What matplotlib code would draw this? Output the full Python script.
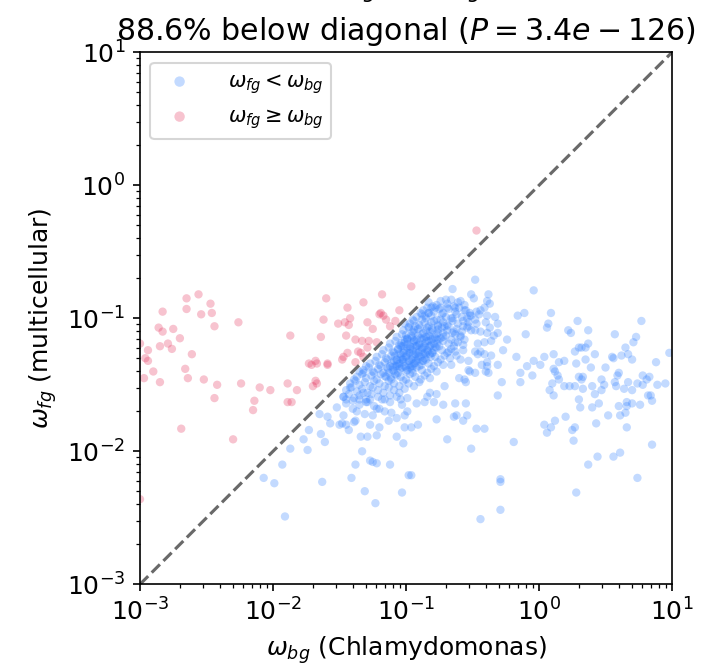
import numpy as np
import matplotlib
matplotlib.use("Agg")
import matplotlib.pyplot as plt

# log10(omega_bg), log10(omega_fg) for genes with omega_fg >= omega_bg
above_diag = [
    (-2.56, -0.82), (-2.65, -0.85), (-2.47, -0.89), (-2.65, -0.93), (-2.83, -0.95),
    (-2.46, -0.96), (-2.54, -0.97), (-2.26, -1.03), (-2.44, -1.06), (-1.60, -0.85),
    (-1.62, -1.01), (-1.87, -1.13), (-1.64, -1.14), (-2.86, -1.07), (-2.83, -1.10),
    (-2.75, -1.08), (-2.70, -1.15), (-3.00, -1.19), (-2.79, -1.19), (-2.85, -1.21),
    (-2.76, -1.23), (-2.94, -1.24), (-2.61, -1.27), (-2.96, -1.30), (-2.94, -1.32),
    (-2.90, -1.40), (-2.66, -1.38), (-2.97, -1.45), (-2.64, -1.45), (-2.85, -1.48),
    (-2.52, -1.46), (-2.42, -1.50), (-2.24, -1.49), (-2.10, -1.52), (-2.02, -1.54),
    (-1.89, -1.49), (-1.82, -1.54), (-2.44, -1.60), (-2.14, -1.62), (-2.15, -1.69),
    (-1.89, -1.63), (-1.86, -1.63), (-2.69, -1.83), (-1.73, -1.34), (-1.71, -1.35),
    (-1.68, -1.32), (-1.67, -1.34), (-1.59, -1.34), (-1.59, -1.35), (-1.68, -1.47),
    (-1.67, -1.49), (-1.70, -1.51), (-0.96, -0.76), (-1.18, -0.82), (-1.32, -0.88),
    (-1.44, -0.92), (-1.05, -0.94), (-1.19, -0.96), (-1.17, -0.98), (-1.15, -1.01),
    (-1.20, -0.97), (-1.51, -1.04), (-1.46, -1.03), (-1.42, -1.00), (-1.43, -1.05),
    (-1.29, -1.03), (-1.25, -1.08), (-1.08, -1.02), (-1.45, -1.13), (-1.38, -1.16),
    (-1.33, -1.17), (-1.28, -1.17), (-1.22, -1.18), (-1.29, -1.22), (-1.36, -1.25),
    (-1.34, -1.26), (-1.44, -1.26), (-1.47, -1.29), (-1.48, -1.31), (-1.32, -1.29),
    (-1.38, -1.33), (-0.47, -0.34), (-2.30, -1.91), (-3.00, -2.36), (-1.12, -1.06),
]

# genes with omega_fg < omega_bg, scattered part of the cloud
below_diag = [
    (-1.87, -1.98), (-1.77, -1.91), (-1.74, -1.99), (-1.64, -1.87), (-1.61, -1.93),
    (-1.93, -2.10), (-2.07, -2.20), (-1.99, -2.24), (-1.63, -2.23), (-1.91, -2.49),
    (-1.73, -1.84), (-1.52, -1.67), (-1.65, -1.72), (-1.59, -1.74), (-1.57, -1.79),
    (-1.33, -2.00), (-1.38, -2.10), (-1.27, -2.07), (-1.25, -2.08), (-1.22, -2.09),
    (-1.12, -2.10), (-1.41, -2.20), (-1.31, -2.30), (-1.23, -2.39), (-1.03, -2.31),
    (-0.98, -2.18), (-0.96, -2.18), (-1.34, -1.89), (-1.29, -1.89), (-1.22, -1.88),
    (-1.07, -1.89), (-1.02, -1.94), (-0.96, -1.82), (-0.77, -1.76), (-0.69, -1.91),
    (-1.48, -1.79), (-1.45, -1.80), (-1.43, -1.84), (-1.38, -1.77), (-1.47, -1.59),
    (-1.45, -1.61), (-1.42, -1.52), (-1.39, -1.46), (-1.35, -1.40), (-1.50, -1.80),
    (-1.47, -1.73), (-1.40, -1.68), (-1.39, -1.78), (-1.27, -1.80), (-1.20, -1.82),
    (-1.13, -1.77), (-1.11, -1.71), (-1.01, -1.73), (-0.92, -1.64), (-0.72, -1.65),
    (-0.71, -1.51), (-0.63, -1.64), (-0.64, -1.74), (-0.62, -1.73), (-0.57, -1.77),
    (-0.55, -1.64), (-0.51, -1.98), (-0.41, -1.83), (-0.55, -1.48), (-0.60, -1.45),
    (-0.48, -1.41), (-0.38, -1.41), (-0.39, -1.36), (-0.52, -1.40), (-0.82, -1.56),
    (-0.84, -1.59), (-0.31, -1.58), (-0.99, -1.60), (-1.03, -1.65), (-1.04, -1.61),
    (-0.99, -1.70), (-1.16, -1.70), (-1.18, -1.61), (-1.22, -1.68), (-1.25, -1.73),
    (-1.31, -1.72), (-1.30, -1.63), (-1.32, -1.56), (-1.12, -1.63), (-1.07, -1.59),
    (-0.79, -1.63), (-0.54, -1.73), (-0.19, -1.93), (0.04, -1.80), (0.06, -1.86),
    (0.09, -1.82), (0.12, -1.77), (0.20, -1.74), (0.25, -1.84), (0.27, -1.82),
    (0.26, -1.92), (0.30, -1.61), (0.31, -1.67), (0.40, -1.67), (0.45, -1.64),
    (0.43, -1.79), (0.52, -1.73), (0.61, -1.73), (0.60, -1.66), (0.65, -1.71),
    (0.66, -1.66), (0.66, -1.63), (0.70, -1.64), (0.76, -1.65), (0.85, -1.62),
    (0.66, -1.82), (0.44, -2.04), (0.37, -2.10), (0.56, -2.04), (0.61, -2.01),
    (0.85, -1.95), (-0.29, -2.21), (-0.29, -2.23), (0.28, -2.31), (0.74, -2.20),
    (-0.29, -2.44), (-0.44, -2.51), (-0.04, -0.79), (-0.38, -0.82), (-0.39, -0.87),
    (-0.41, -0.92), (-0.39, -0.98), (-0.33, -0.99), (-0.40, -1.03), (-0.31, -1.04),
    (-0.37, -1.07), (-0.16, -0.98), (-0.11, -0.96), (0.09, -0.96), (0.07, -1.04),
    (0.06, -1.07), (0.29, -1.02), (0.77, -1.02), (-0.10, -1.12), (0.22, -1.09),
    (0.24, -1.11), (0.37, -1.09), (0.57, -1.12), (-0.39, -1.11), (-0.31, -1.11),
    (-0.36, -1.17), (-0.24, -1.16), (0.73, -1.14), (0.71, -1.18), (0.37, -1.19),
    (0.30, -1.22), (0.32, -1.22), (0.35, -1.22), (0.27, -1.25), (0.65, -1.22),
    (-0.27, -1.24), (-0.44, -1.25), (-0.41, -1.27), (-0.36, -1.28), (-0.17, -1.29),
    (0.04, -1.29), (0.11, -1.27), (0.42, -1.27), (0.62, -1.28), (0.67, -1.27),
    (0.98, -1.26), (0.56, -1.30), (0.55, -1.29), (0.70, -1.31), (-0.04, -1.32),
    (0.15, -1.33), (0.19, -1.32), (0.35, -1.31), (0.28, -1.34), (-0.39, -1.33),
    (-0.09, -1.36), (0.01, -1.35), (0.88, -1.33), (0.39, -1.37), (0.50, -1.37),
    (0.11, -1.38), (0.12, -1.40), (-0.40, -1.40), (-0.14, -1.41), (-0.05, -1.43),
    (0.14, -1.43), (0.15, -1.46), (0.30, -1.44), (0.33, -1.44), (0.32, -1.46),
    (0.60, -1.41), (0.59, -1.43), (0.78, -1.43), (0.83, -1.44), (0.81, -1.46),
    (0.47, -1.46), (-0.28, -1.48), (-0.14, -1.48), (0.10, -1.49), (0.19, -1.51),
    (0.23, -1.51), (0.27, -1.51), (0.33, -1.53), (0.40, -1.51), (0.49, -1.50),
    (0.47, -1.54), (0.57, -1.48), (0.58, -1.51), (0.64, -1.53), (0.67, -1.48),
    (0.70, -1.54), (0.74, -1.49), (0.78, -1.50), (0.89, -1.50), (0.95, -1.49),
    (0.08, -1.54), (0.11, -1.58), (0.42, -1.57), (0.84, -1.58), (0.82, -1.58),
    (-0.48, -0.71), (-0.65, -0.78), (-0.51, -0.82), (-0.49, -0.85), (-0.70, -0.86),
    (-0.66, -0.86), (-0.59, -0.87), (-0.37, -0.89), (-0.74, -0.92), (-0.69, -0.92),
    (-0.63, -0.92), (-0.56, -0.94), (-0.47, -0.95), (-0.52, -0.98), (-0.57, -1.02),
    (-0.48, -1.01), (-0.45, -0.97), (-0.83, -0.96), (-0.86, -0.98), (-0.34, -1.13),
    (-0.48, -1.09), (-0.53, -1.06), (-0.59, -1.13), (-0.57, -1.20), (-0.46, -1.19),
    (-0.46, -1.27), (-0.48, -1.25), (-0.31, -1.35), (-0.62, -1.28), (-0.59, -1.31),
    (-0.68, -1.25), (-0.89, -0.96), (-0.95, -1.01), (-1.01, -1.04), (-0.81, -1.03),
    (-0.76, -1.06), (-0.69, -1.05), (-0.65, -1.00), (-0.64, -1.10), (-0.63, -1.18),
    (-0.72, -1.14), (-0.81, -0.92), (-0.44, -0.94), (-0.47, -1.04), (-0.51, -1.09),
    (-0.44, -1.10), (-0.41, -1.18), (-0.57, -1.24), (-0.53, -1.32), (-0.43, -1.35),
    (-0.66, -1.35), (-0.53, -1.39), (-0.56, -1.46), (-0.77, -1.57), (-0.47, -1.83),
    (-1.01, -1.82), (-0.91, -1.80), (-1.37, -1.70), (-1.35, -1.61), (-1.27, -1.61),
    (-1.20, -1.68), (-1.07, -1.75), (-0.86, -1.63), (-1.32, -1.41), (-1.30, -1.36),
]

# dense core of the below-diagonal cloud, band by band in omega_fg
below_core = [
    (-0.83, -0.88), (-0.77, -0.90), (-0.74, -0.87), (-0.69, -0.89), (-0.64, -0.91),
    (-0.61, -0.88), (-0.56, -0.90), (-0.80, -0.91),
    (-0.87, -0.94), (-0.84, -0.92), (-0.79, -0.95), (-0.75, -0.93), (-0.72, -0.96),
    (-0.68, -0.93), (-0.63, -0.95), (-0.60, -0.92), (-0.55, -0.94), (-0.52, -0.96),
    (-0.78, -0.92),
    (-0.92, -0.99), (-0.88, -0.97), (-0.85, -1.00), (-0.81, -0.98), (-0.77, -1.01),
    (-0.73, -0.97), (-0.70, -0.99), (-0.66, -1.00), (-0.62, -0.97), (-0.58, -0.99),
    (-0.54, -1.00), (-0.51, -0.98), (-0.83, -0.96),
    (-0.97, -1.04), (-0.94, -1.02), (-0.90, -1.05), (-0.86, -1.03), (-0.83, -1.06),
    (-0.79, -1.02), (-0.76, -1.05), (-0.72, -1.03), (-0.68, -1.06), (-0.65, -1.02),
    (-0.61, -1.04), (-0.57, -1.06), (-0.53, -1.03), (-0.88, -1.01), (-0.74, -1.01),
    (-1.02, -1.09), (-0.98, -1.07), (-0.95, -1.10), (-0.91, -1.08), (-0.87, -1.11),
    (-0.84, -1.07), (-0.80, -1.09), (-0.76, -1.11), (-0.73, -1.07), (-0.69, -1.09),
    (-0.65, -1.11), (-0.62, -1.08), (-0.58, -1.10), (-0.54, -1.07), (-0.93, -1.06),
    (-0.82, -1.10), (-0.71, -1.06),
    (-1.07, -1.14), (-1.03, -1.12), (-0.99, -1.15), (-0.96, -1.13), (-0.92, -1.16),
    (-0.88, -1.12), (-0.85, -1.14), (-0.81, -1.16), (-0.77, -1.12), (-0.74, -1.15),
    (-0.70, -1.13), (-0.66, -1.16), (-0.63, -1.12), (-0.59, -1.14), (-0.56, -1.16),
    (-0.94, -1.11), (-0.83, -1.13), (-0.72, -1.11), (-1.01, -1.16),
    (-1.12, -1.19), (-1.08, -1.17), (-1.05, -1.20), (-1.01, -1.18), (-0.97, -1.21),
    (-0.94, -1.17), (-0.90, -1.19), (-0.86, -1.21), (-0.83, -1.17), (-0.79, -1.19),
    (-0.75, -1.21), (-0.72, -1.17), (-0.68, -1.19), (-0.64, -1.21), (-0.61, -1.18),
    (-0.99, -1.16), (-0.88, -1.16), (-0.77, -1.16), (-1.03, -1.21), (-0.92, -1.21),
    (-1.17, -1.24), (-1.13, -1.22), (-1.10, -1.25), (-1.06, -1.23), (-1.02, -1.26),
    (-0.99, -1.22), (-0.95, -1.24), (-0.91, -1.26), (-0.88, -1.22), (-0.84, -1.24),
    (-0.80, -1.26), (-0.77, -1.22), (-0.73, -1.24), (-0.69, -1.26), (-0.66, -1.23),
    (-0.63, -1.25), (-1.04, -1.21), (-0.93, -1.21), (-0.82, -1.21), (-0.97, -1.26),
    (-0.86, -1.26),
    (-1.22, -1.29), (-1.18, -1.27), (-1.15, -1.30), (-1.11, -1.28), (-1.07, -1.31),
    (-1.04, -1.27), (-1.00, -1.29), (-0.96, -1.31), (-0.93, -1.27), (-0.89, -1.29),
    (-0.85, -1.31), (-0.82, -1.27), (-0.78, -1.29), (-0.74, -1.31), (-0.71, -1.28),
    (-0.67, -1.30), (-1.09, -1.26), (-0.98, -1.26), (-0.87, -1.27), (-1.02, -1.31),
    (-0.91, -1.31),
    (-1.27, -1.34), (-1.23, -1.32), (-1.20, -1.35), (-1.16, -1.33), (-1.12, -1.36),
    (-1.09, -1.32), (-1.05, -1.34), (-1.01, -1.36), (-0.98, -1.32), (-0.94, -1.34),
    (-0.90, -1.36), (-0.87, -1.32), (-0.83, -1.34), (-0.79, -1.36), (-0.76, -1.33),
    (-0.72, -1.35), (-1.14, -1.31), (-1.03, -1.31), (-0.92, -1.32), (-1.07, -1.36),
    (-0.96, -1.36),
    (-1.32, -1.39), (-1.28, -1.37), (-1.25, -1.40), (-1.21, -1.38), (-1.17, -1.41),
    (-1.14, -1.37), (-1.10, -1.39), (-1.06, -1.41), (-1.03, -1.37), (-0.99, -1.39),
    (-0.95, -1.41), (-0.92, -1.37), (-0.88, -1.39), (-0.84, -1.41), (-0.81, -1.38),
    (-0.77, -1.40), (-1.19, -1.36), (-1.08, -1.36), (-0.97, -1.37),
    (-1.37, -1.44), (-1.33, -1.42), (-1.30, -1.45), (-1.26, -1.43), (-1.22, -1.46),
    (-1.19, -1.42), (-1.15, -1.44), (-1.11, -1.46), (-1.08, -1.42), (-1.04, -1.44),
    (-1.00, -1.46), (-0.97, -1.42), (-0.93, -1.44), (-0.89, -1.46), (-0.86, -1.43),
    (-0.82, -1.45), (-1.24, -1.41), (-1.13, -1.41),
    (-1.42, -1.49), (-1.38, -1.47), (-1.35, -1.50), (-1.31, -1.48), (-1.27, -1.51),
    (-1.24, -1.47), (-1.20, -1.49), (-1.16, -1.51), (-1.13, -1.47), (-1.09, -1.49),
    (-1.05, -1.51), (-1.02, -1.47), (-0.98, -1.49), (-0.94, -1.51), (-0.90, -1.48),
    (-1.45, -1.54), (-1.41, -1.52), (-1.37, -1.55), (-1.33, -1.53), (-1.29, -1.56),
    (-1.25, -1.52), (-1.21, -1.54), (-1.17, -1.56), (-1.13, -1.52), (-1.09, -1.54),
    (-1.05, -1.56), (-1.01, -1.53),
    (-1.47, -1.59), (-1.43, -1.57), (-1.39, -1.60), (-1.35, -1.58), (-1.30, -1.61),
    (-1.26, -1.57), (-1.21, -1.59), (-1.16, -1.61), (-1.12, -1.58),
    (-1.45, -1.64), (-1.40, -1.62), (-1.35, -1.65), (-1.29, -1.63), (-1.24, -1.66),
    # densest middle
    (-1.00, -1.125), (-0.955, -1.145), (-0.91, -1.13), (-0.865, -1.15), (-0.82, -1.135),
    (-0.78, -1.145), (-1.035, -1.185), (-0.99, -1.195), (-0.945, -1.18), (-0.90, -1.20),
    (-0.855, -1.185), (-0.81, -1.20), (-0.765, -1.19), (-1.06, -1.235), (-1.015, -1.245),
    (-0.97, -1.23), (-0.925, -1.25), (-0.88, -1.235), (-0.835, -1.25), (-0.79, -1.24),
    (-1.085, -1.285), (-1.04, -1.295), (-0.995, -1.28), (-0.95, -1.30), (-0.905, -1.285),
    (-0.86, -1.30), (-0.815, -1.29), (-1.11, -1.335), (-1.065, -1.345), (-1.02, -1.33),
    (-0.975, -1.35), (-0.93, -1.335), (-0.885, -1.35), (-1.135, -1.385), (-1.09, -1.395),
    (-1.045, -1.38), (-1.00, -1.40), (-0.955, -1.385), (-1.16, -1.435), (-1.115, -1.445),
    (-1.07, -1.43),
    (-0.98, -1.065), (-0.94, -1.085), (-0.895, -1.07), (-0.85, -1.09), (-0.805, -1.075),
    (-0.76, -1.085), (-0.99, -1.155), (-0.94, -1.165), (-0.89, -1.15), (-0.845, -1.17),
    (-0.80, -1.155), (-0.755, -1.16), (-1.02, -1.21), (-0.965, -1.215), (-0.915, -1.205),
    (-0.87, -1.22), (-0.825, -1.21), (-0.78, -1.215), (-1.05, -1.265), (-0.995, -1.26),
    (-0.945, -1.27), (-0.90, -1.255), (-0.85, -1.27), (-0.805, -1.26), (-1.07, -1.315),
    (-1.025, -1.31), (-0.975, -1.32), (-0.925, -1.31), (-0.875, -1.32), (-1.10, -1.365),
    (-1.05, -1.36), (-1.00, -1.37), (-0.95, -1.36),
]

title_lines = [r"$\omega_{fg}$ vs $\omega_{bg}$",
               r"88.6% below diagonal ($P=3.4e-126$)"]
blue = "#3a86ff"
pink = "#e63962"

plt.rcParams["font.size"] = 12

below = 10 ** np.array(below_diag + below_core)
above = 10 ** np.array(above_diag)

fig = plt.figure(figsize=(717 / 150, 671 / 150), dpi=150)
ax = fig.add_axes([140 / 717, 1 - 584.3 / 671, 532 / 717, 532 / 671])

ax.scatter(below[:, 0], below[:, 1], s=16, color=blue, alpha=0.3,
           edgecolors="none", label=r"$\omega_{fg} < \omega_{bg}$")
ax.scatter(above[:, 0], above[:, 1], s=16, color=pink, alpha=0.3,
           edgecolors="none", label=r"$\omega_{fg} \geq \omega_{bg}$")

lims = [1e-3, 1e1]
ax.plot(lims, lims, ls="--", color="dimgray", lw=1.5)
ax.set_xscale("log")
ax.set_yscale("log")
ax.set_xlim(lims)
ax.set_ylim(lims)

ax.set_xlabel(r"$\omega_{bg}$ (Chlamydomonas)")
ax.set_ylabel(r"$\omega_{fg}$ (multicellular)")
ax.set_title("\n".join(title_lines), fontsize=14.4, linespacing=1.45)
ax.legend(loc="upper left", fontsize=10, markerscale=1.25, handletextpad=1.3)

fig.savefig("out.png", dpi=150)
